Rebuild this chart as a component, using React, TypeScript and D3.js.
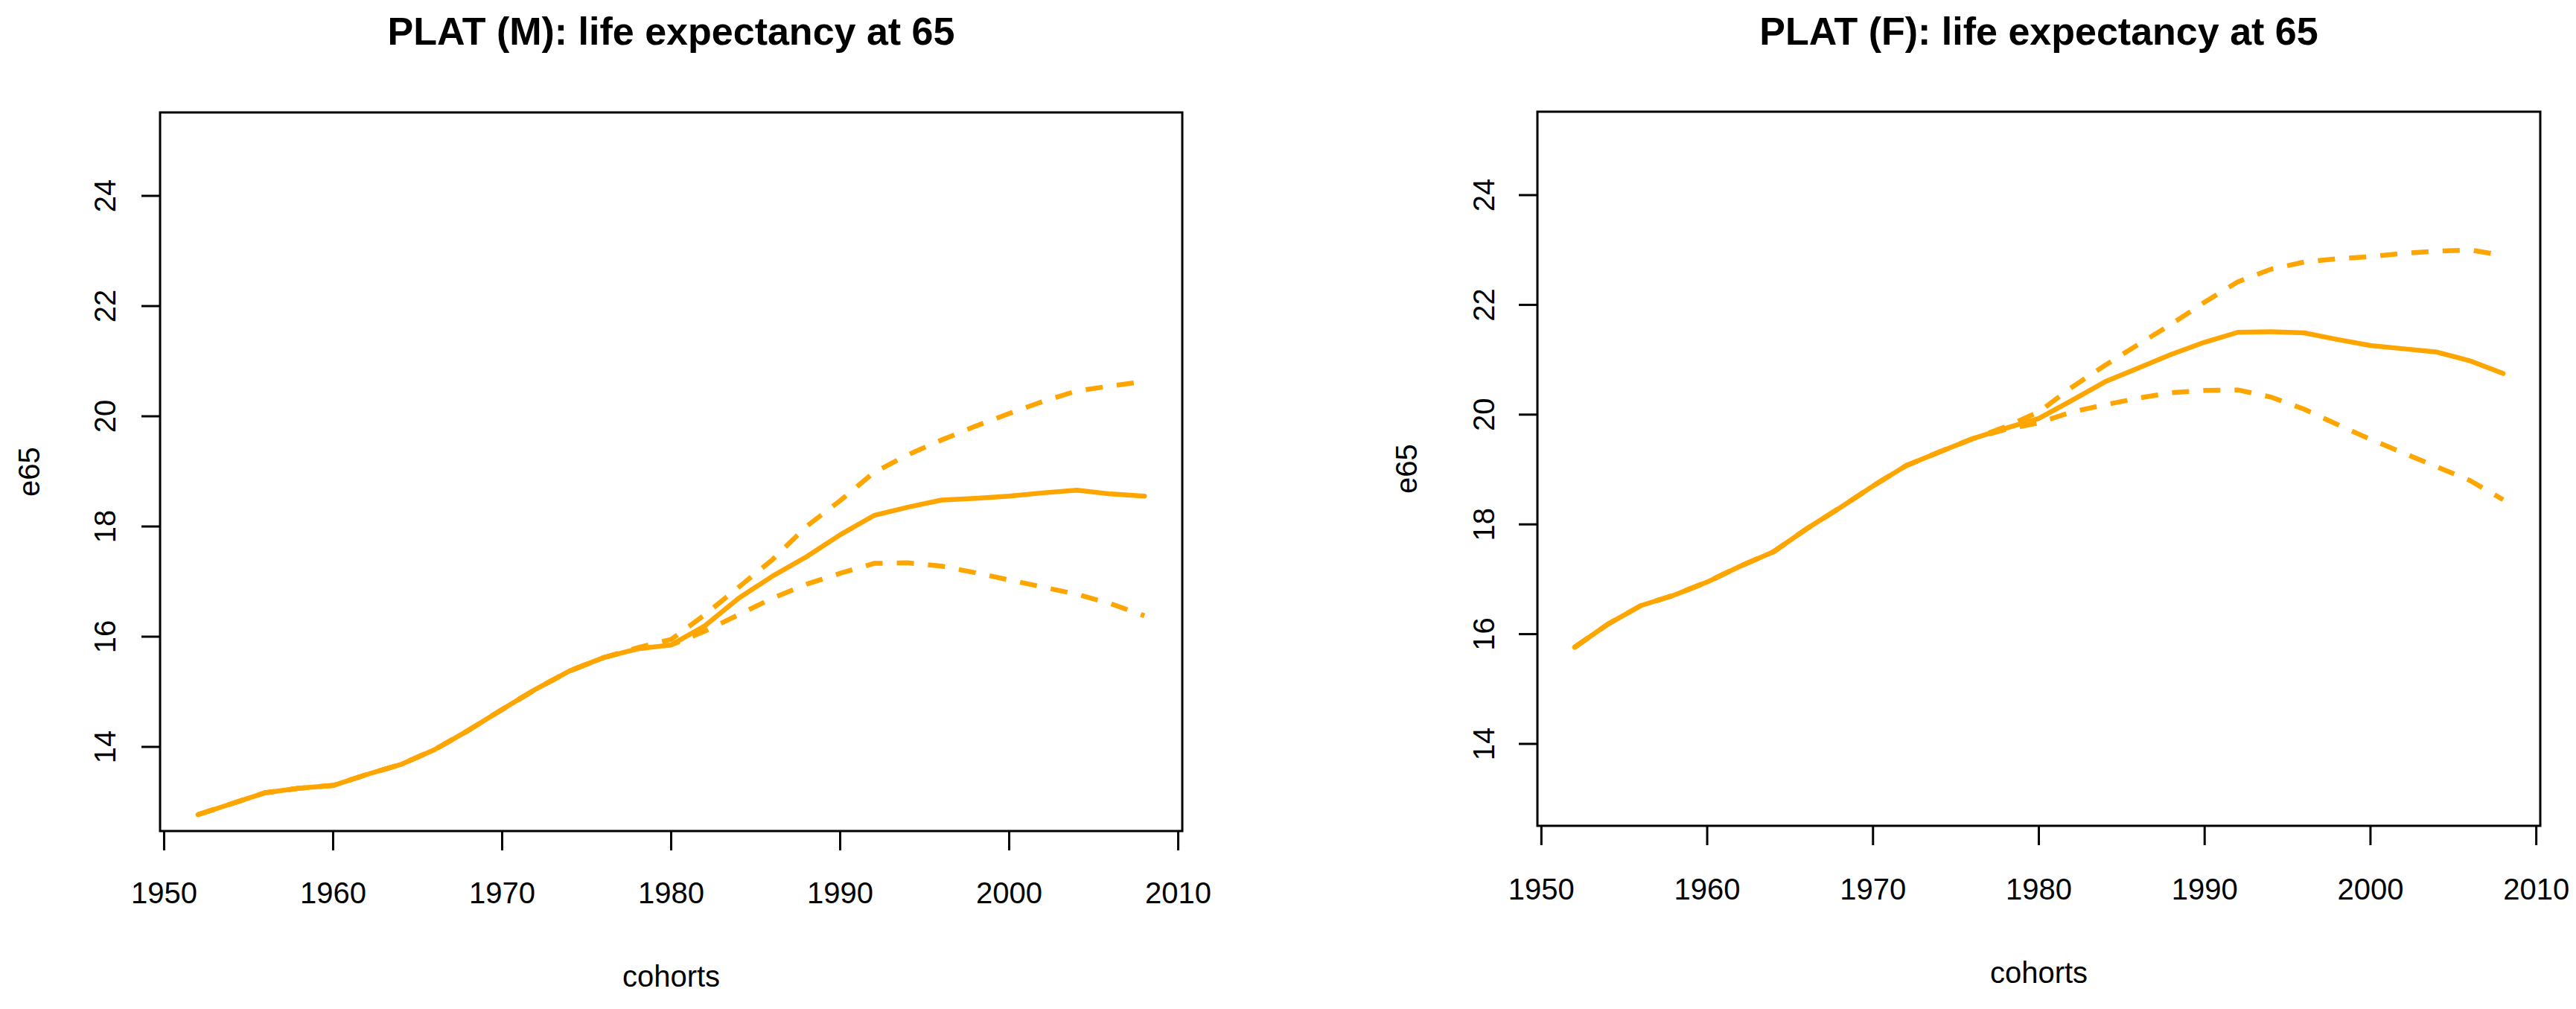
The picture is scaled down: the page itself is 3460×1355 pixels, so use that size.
import React, { useRef, useEffect } from 'react';
import * as d3 from 'd3';

const WIDTH = 3460;
const HEIGHT = 1355;
const ORANGE = '#FFA500';
const FONT = 'Liberation Sans, Arial, sans-serif';

// cohort years (every 2 years)
const cohorts = [
  1952, 1954, 1956, 1958, 1960, 1962, 1964, 1966, 1968, 1970, 1972, 1974, 1976, 1978, 1980,
  1982, 1984, 1986, 1988, 1990, 1992, 1994, 1996, 1998, 2000, 2002, 2004, 2006, 2008,
];

// males
const maleCentral = [
  12.77, 12.97, 13.17, 13.25, 13.3, 13.5, 13.68, 13.95, 14.3, 14.68, 15.05, 15.38, 15.62, 15.78, 15.85,
  16.2, 16.7, 17.1, 17.45, 17.85, 18.2, 18.35, 18.48, 18.51, 18.55, 18.61, 18.66, 18.59, 18.55,
];
const maleUpper = [
  12.77, 12.97, 13.17, 13.25, 13.3, 13.5, 13.68, 13.95, 14.3, 14.68, 15.05, 15.38, 15.62, 15.8, 15.95,
  16.4, 16.9, 17.4, 18.0, 18.47, 18.98, 19.3, 19.57, 19.82, 20.05, 20.27, 20.46, 20.55, 20.63,
];
const maleLower = [
  12.77, 12.97, 13.17, 13.25, 13.3, 13.5, 13.68, 13.95, 14.3, 14.68, 15.05, 15.38, 15.62, 15.78, 15.85,
  16.1, 16.4, 16.7, 16.95, 17.15, 17.33, 17.34, 17.28, 17.16, 17.03, 16.9, 16.77, 16.6, 16.38,
];

// females
const femaleCentral = [
  15.76, 16.18, 16.52, 16.71, 16.95, 17.24, 17.5, 17.92, 18.3, 18.7, 19.07, 19.32, 19.56, 19.75, 19.93,
  20.26, 20.6, 20.85, 21.1, 21.32, 21.5, 21.51, 21.49, 21.37, 21.26, 21.2, 21.14, 20.98, 20.75,
];
const femaleUpper = [
  15.76, 16.18, 16.52, 16.71, 16.95, 17.24, 17.5, 17.92, 18.3, 18.7, 19.07, 19.32, 19.56, 19.78, 20.05,
  20.5, 20.9, 21.28, 21.65, 22.05, 22.42, 22.65, 22.78, 22.84, 22.88, 22.94, 22.98, 23.0, 22.9,
];
const femaleLower = [
  15.76, 16.18, 16.52, 16.71, 16.95, 17.24, 17.5, 17.92, 18.3, 18.7, 19.07, 19.32, 19.56, 19.73, 19.85,
  20.05, 20.18, 20.3, 20.4, 20.44, 20.45, 20.32, 20.1, 19.82, 19.55, 19.3, 19.05, 18.8, 18.45,
];

const xTicks = [1950, 1960, 1970, 1980, 1990, 2000, 2010];
const yTicks = [14, 16, 18, 20, 22, 24];

interface PanelSpec {
  title: string;
  central: number[];
  upper: number[];
  lower: number[];
  left: number;
  right: number;
  top: number;
  bottom: number;
  yDomain: [number, number];
  xLabelBase: number;
  xTitleBase: number;
  yLabelBase: number;
  yTitleBase: number;
}

const panels: PanelSpec[] = [
  {
    title: 'PLAT (M): life expectancy at 65',
    central: maleCentral,
    upper: maleUpper,
    lower: maleLower,
    left: 215,
    right: 1588,
    top: 151,
    bottom: 1116,
    yDomain: [12.473, 25.514],
    xLabelBase: 1213,
    xTitleBase: 1325,
    yLabelBase: 155,
    yTitleBase: 53,
  },
  {
    title: 'PLAT (F): life expectancy at 65',
    central: femaleCentral,
    upper: femaleUpper,
    lower: femaleLower,
    left: 2065,
    right: 3412,
    top: 150,
    bottom: 1109,
    yDomain: [12.507, 25.52],
    xLabelBase: 1208,
    xTitleBase: 1320,
    yLabelBase: 2007,
    yTitleBase: 1903,
  },
];

const drawPanel = (svg: d3.Selection<SVGSVGElement, unknown, null, undefined>, p: PanelSpec) => {
  const x = d3.scaleLinear().domain([1949.76, 2010.24]).range([p.left, p.right]);
  const y = d3.scaleLinear().domain(p.yDomain).range([p.bottom, p.top]);
  const g = svg.append('g');
  const cx = (p.left + p.right) / 2;
  const cy = (p.top + p.bottom) / 2;

  // title
  g.append('text')
    .attr('x', cx)
    .attr('y', 60)
    .attr('text-anchor', 'middle')
    .attr('font-family', FONT)
    .attr('font-weight', 'bold')
    .attr('font-size', '52px')
    .text(p.title);

  // lines
  const line = d3
    .line<number>()
    .x((_, i) => x(cohorts[i]))
    .y((d) => y(d));

  g.append('path')
    .attr('d', line(p.central) ?? '')
    .attr('fill', 'none')
    .attr('stroke', ORANGE)
    .attr('stroke-width', 6.5)
    .attr('stroke-linejoin', 'round')
    .attr('stroke-linecap', 'round');

  [p.upper, p.lower].forEach((s) => {
    g.append('path')
      .attr('d', line(s) ?? '')
      .attr('fill', 'none')
      .attr('stroke', ORANGE)
      .attr('stroke-width', 6.5)
      .attr('stroke-dasharray', '23,19')
      .attr('stroke-linejoin', 'round');
  });

  // box
  g.append('rect')
    .attr('x', p.left)
    .attr('y', p.top)
    .attr('width', p.right - p.left)
    .attr('height', p.bottom - p.top)
    .attr('fill', 'none')
    .attr('stroke', '#000')
    .attr('stroke-width', 3);

  // x axis
  xTicks.forEach((t) => {
    g.append('line')
      .attr('x1', x(t))
      .attr('x2', x(t))
      .attr('y1', p.bottom)
      .attr('y2', p.bottom + 26)
      .attr('stroke', '#000')
      .attr('stroke-width', 3);
    g.append('text')
      .attr('x', x(t))
      .attr('y', p.xLabelBase)
      .attr('text-anchor', 'middle')
      .attr('font-family', FONT)
      .attr('font-size', '40px')
      .text(t);
  });

  // y axis
  yTicks.forEach((t) => {
    g.append('line')
      .attr('x1', p.left)
      .attr('x2', p.left - 25)
      .attr('y1', y(t))
      .attr('y2', y(t))
      .attr('stroke', '#000')
      .attr('stroke-width', 3);
    g.append('text')
      .attr('transform', `translate(${p.yLabelBase},${y(t)}) rotate(-90)`)
      .attr('text-anchor', 'middle')
      .attr('font-family', FONT)
      .attr('font-size', '40px')
      .text(t);
  });

  // axis titles
  g.append('text')
    .attr('x', cx)
    .attr('y', p.xTitleBase)
    .attr('text-anchor', 'middle')
    .attr('font-family', FONT)
    .attr('font-size', '40px')
    .text('cohorts');

  g.append('text')
    .attr('transform', `translate(${p.yTitleBase},${cy}) rotate(-90)`)
    .attr('text-anchor', 'middle')
    .attr('font-family', FONT)
    .attr('font-size', '40px')
    .text('e65');
};

export default function App() {
  const svgRef = useRef<SVGSVGElement>(null);

  useEffect(() => {
    if (!svgRef.current) return;
    const svg = d3.select(svgRef.current);
    svg.selectAll('*').remove();
    svg.append('rect').attr('width', WIDTH).attr('height', HEIGHT).attr('fill', '#fff');
    panels.forEach((p) => drawPanel(svg, p));
  }, []);

  return (
    <svg
      ref={svgRef}
      width={WIDTH}
      height={HEIGHT}
      style={{ position: 'absolute', left: 0, top: 0, display: 'block' }}
    />
  );
}
